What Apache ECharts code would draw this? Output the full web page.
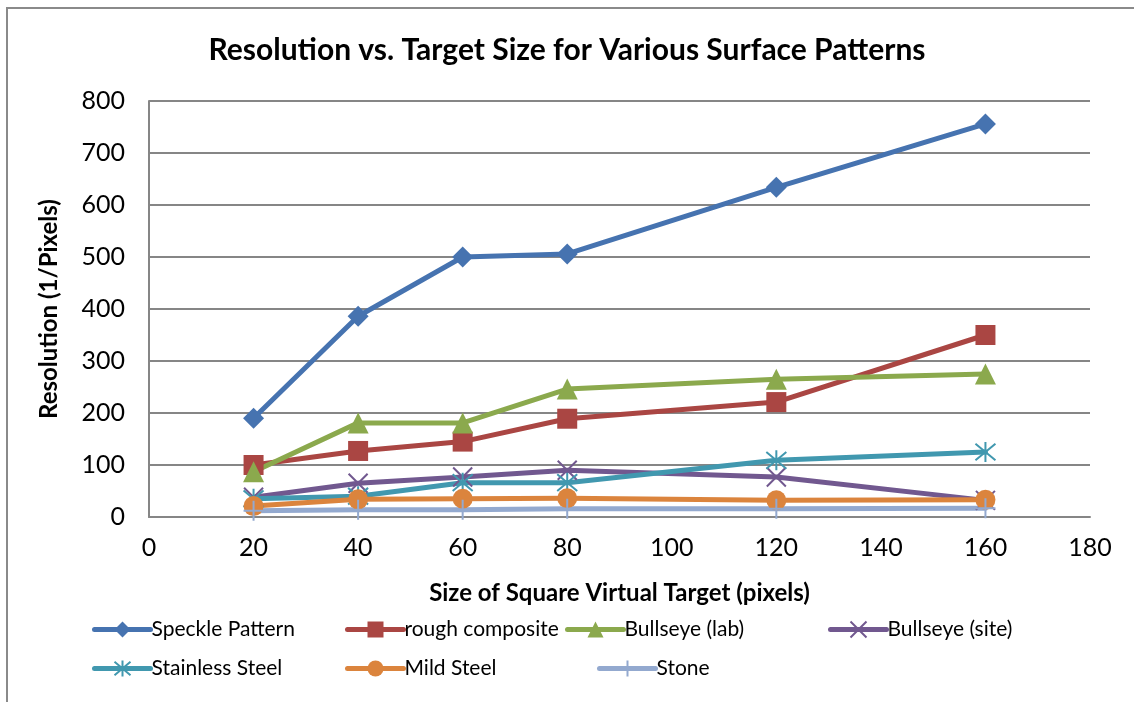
<!DOCTYPE html>
<html>
<head>
<meta charset="utf-8">
<script src="https://cdn.jsdelivr.net/npm/echarts@6/dist/echarts.min.js"></script>
<style>
html,body{margin:0;padding:0;background:#fff;}
#chart{width:1134px;height:702px;}
</style>
</head>
<body>
<div id="chart"></div>
<script>
const xValues = [20, 40, 60, 80, 120, 160];
const seriesNames = ['Speckle Pattern', 'rough composite', 'Bullseye (lab)', 'Bullseye (site)', 'Stainless Steel', 'Mild Steel', 'Stone'];
const speckle = [190, 386, 500, 506, 634, 756];
const rough = [100, 127, 145, 189, 221, 350];
const bullLab = [87, 181, 181, 246, 265, 275];
const bullSite = [38, 65, 77, 90, 77, 32];
const stainless = [35, 40, 66, 66, 109, 125];
const mildSteel = [21, 34, 35, 36, 32, 33];
const stone = [12, 14, 14, 16, 16, 17];
const colors = ['#4673B0', '#AA4643', '#8BA94D', '#71588F', '#4198AF', '#DB843D', '#93A9CF'];

const FONT = 'Lato';
const pathX = 'path://M0,0 L10,10 M10,0 L0,10';
const pathAst = 'path://M0,0 L10,10 M10,0 L0,10 M5,-1 L5,11';
const pathPlus = 'path://M5,0 L5,10 M0,5 L10,5';
const symbols = ['diamond', 'rect', 'triangle', pathX, pathAst, 'circle', pathPlus];
const symSizes = [21, 20, 21, 19, 20, 20, 20];
const dataSets = [speckle, rough, bullLab, bullSite, stainless, mildSteel, stone];

const series = seriesNames.map((name, i) => {
  const stroked = (i === 3 || i === 4 || i === 6);
  return {
    name: name,
    type: 'line',
    data: xValues.map((x, j) => [x, dataSets[i][j]]),
    symbol: symbols[i],
    symbolSize: symSizes[i],
    showAllSymbol: true,
    lineStyle: { color: colors[i], width: 5, cap: 'round', join: 'round' },
    itemStyle: stroked ? { color: colors[i], borderColor: colors[i], borderWidth: 2 } : { color: colors[i], borderWidth: 0 },
    emphasis: { disabled: true },
    animation: false
  };
});

const legendPos = [
  [92, 619], [345, 619], [565, 619], [828, 619],
  [92, 658], [345, 658], [597, 658]
];
const legends = seriesNames.map((name, i) => ({
  data: [name],
  left: legendPos[i][0],
  top: legendPos[i][1],
  itemWidth: 56,
  itemHeight: 20,
  itemGap: 0,
  padding: 0,
  lineStyle: { width: 5 },
  textStyle: { fontFamily: FONT, fontSize: 21, color: '#000', padding: [0, 0, 0, -4] },
  selectedMode: false
}));

const chart = echarts.init(document.getElementById('chart'));
chart.setOption({
  backgroundColor: '#fff',
  animation: false,
  title: {
    text: 'Resolution vs. Target Size for Various Surface Patterns',
    left: 'center',
    top: 30,
    textStyle: { fontFamily: FONT, fontSize: 30, fontWeight: 'bold', color: '#000' }
  },
  legend: legends,
  grid: { left: 149, right: 44, top: 101, bottom: 185, containLabel: false },
  xAxis: {
    type: 'value',
    min: 0, max: 180, interval: 20,
    name: 'Size of Square Virtual Target (pixels)',
    nameLocation: 'middle',
    nameGap: 64,
    nameTextStyle: { fontFamily: FONT, fontSize: 24, fontWeight: 'bold', color: '#000' },
    axisLine: { show: true, lineStyle: { color: '#868686', width: 2 } },
    axisTick: { show: false },
    splitLine: { show: false },
    axisLabel: { fontFamily: FONT, fontSize: 25, color: '#000', margin: 18 }
  },
  yAxis: {
    type: 'value',
    min: 0, max: 800, interval: 100,
    name: 'Resolution (1/Pixels)',
    nameLocation: 'middle',
    nameGap: 88,
    nameTextStyle: { fontFamily: FONT, fontSize: 24, fontWeight: 'bold', color: '#000' },
    axisLine: { show: true, lineStyle: { color: '#868686', width: 2 } },
    axisTick: { show: false },
    splitLine: { show: true, lineStyle: { color: '#868686', width: 2 } },
    axisLabel: { fontFamily: FONT, fontSize: 25, color: '#000', margin: 24 }
  },
  graphic: [{
    type: 'rect',
    shape: { x: 7, y: 8, width: 1200, height: 800 },
    style: { fill: 'none', stroke: '#8a8a8a', lineWidth: 2 },
    silent: true,
    z: -1
  }],
  series: series
});
</script>
</body>
</html>
